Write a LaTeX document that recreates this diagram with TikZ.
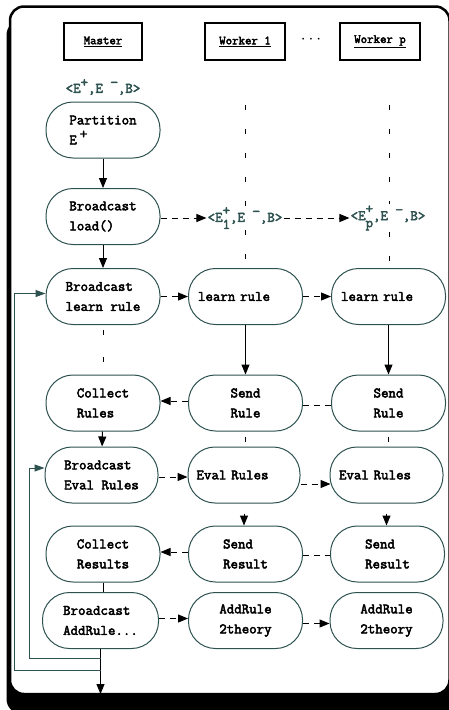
\documentclass[tikz,border=0pt]{standalone}
\usepackage{fontspec}
\setmonofont{Latin Modern Mono}[AutoFakeBold=3]
\usetikzlibrary{arrows.meta,calc}
\definecolor{slate}{RGB}{46,82,80}
\tikzset{
 proc/.style={draw=slate, line width=1pt, rectangle, rounded corners=27pt, minimum width=114pt, minimum height=56pt, align=left, font=\ttfamily\bfseries\fontsize{14.5}{20}\selectfont, inner sep=0pt, fill=white},
 single/.style={text width=95pt},
 hdr/.style={draw=black, line width=2.5pt, minimum width=78pt, minimum height=37pt, inner sep=0pt, font=\ttfamily\bfseries\fontsize{12.5}{13}\selectfont},
 lbl/.style={text=slate, font=\ttfamily\bfseries\fontsize{14.5}{16}\selectfont, inner sep=1pt},
 arr/.style={-{Triangle[length=10pt,width=8pt]}, line width=1pt},
 darr/.style={arr, dash pattern=on 6pt off 5pt},
 dline/.style={line width=1pt, dash pattern=on 6pt off 5pt},
 vdash/.style={line width=1pt, dash pattern=on 5pt off 19pt},
 gapdash/.style={line width=1pt, dash pattern=on 0pt off 5pt on 5pt off 17pt},
 loopl/.style={draw=slate, line width=1pt, -{Triangle[length=10pt,width=7pt]}}
}
\newcommand{\sups}[1]{\raisebox{6pt}{#1}}
\newcommand{\subsup}[2]{\rlap{\raisebox{7pt}{#2}}\raisebox{-7pt}{#1}}
\begin{document}
\begin{tikzpicture}[x=1pt,y=-1pt]
\useasboundingbox (0,0) rectangle (449,710);
% frame
\fill[black, rounded corners=15pt] (6.5,20) rectangle (455,714);
\draw[line width=2.5pt, fill=white, rounded corners=14pt] (10,6.5) rectangle (449.5,694);
% headers
\node[hdr] (hm) at (103,41.5) {\underline{Master}};
\node[hdr, minimum width=80pt] (h1) at (245,41.5) {\underline{Worker 1}};
\node[hdr, minimum width=80pt] (hp) at (380,41.5) {\underline{Worker p}};
\node[font=\bfseries\fontsize{16}{16}\selectfont] (dots) at (311,40) {$\cdot$\hspace{3pt}$\cdot$\hspace{3pt}$\cdot$};
% labels
\node[lbl] (l0) at (103,87) {<E\sups{+},E \sups{−},B>};
\node[lbl] (l1) at (245,218) {<E\subsup{1}{+},E \sups{−},B>};
\node[lbl] (lp) at (388,218) {<E\subsup{p}{+},E \sups{−},B>};
% master column
\node[proc] (part) at (103,130) {Partition\\E\hspace{3pt}\sups{+}};
\node[proc] (bload) at (103,216.5) {Broadcast\\load()};
\node[proc] (blearn) at (103,296.5) {Broadcast\\learn rule};
\node[proc] (collR) at (103,403) {Collect\\Rules};
\node[proc, minimum width=113pt] (bEval) at (101.5,475) {Broadcast\\Eval Rules};
\node[proc] (collRes) at (103,554) {Collect\\Results};
\node[proc, minimum width=116pt] (bAdd) at (100.5,620.5) {Broadcast\\AddRule...};
% worker 1
\node[proc, single] (learn1) at (245.5,296.5) {learn rule};
\node[proc] (send1) at (245.5,403) {Send\\Rule};
\node[proc, single, minimum width=112pt] (eval1) at (244,475) {Eval Rules};
\node[proc] (sres1) at (245.5,554) {Send\\Result};
\node[proc] (add1) at (245.5,620.5) {AddRule\\2theory};
% worker p
\node[proc, single] (learnp) at (388.5,296.5) {learn rule};
\node[proc] (sendp) at (388.5,403) {Send\\Rule};
\node[proc, single, minimum width=113pt] (evalp) at (386.5,475) {Eval Rules};
\node[proc] (sresp) at (387.5,554) {Send\\Result};
\node[proc, minimum width=113pt] (addp) at (386.5,620.5) {AddRule\\2theory};
% coordinates
\coordinate (t1) at (245,105);
\coordinate (tp) at (389,105);
\coordinate (exit) at (101.5,694);
\coordinate (j1) at ($(bAdd.south)+(0,9)$);
\coordinate (j2) at ($(bAdd.south)+(0,21)$);
% master verticals
\draw[arr] (part) -- (bload);
\draw[arr] (bload) -- (blearn);
\draw[gapdash] (blearn) -- (collR);
\draw[arr] (collR) -- (bEval);
\draw[line width=1pt] (collRes.south) -- (collRes.south |- bAdd.north);
\draw[arr] (bAdd.south) -- (bAdd.south |- exit);
% loops
\draw[loopl] (j1) -| ($(bEval.west)+(-15,-7)$) -- ($(bEval.west)+(0,-7)$);
\draw[loopl] (j2) -| ($(blearn.west)+(-31,-3)$) -- ($(blearn.west)+(0,-3)$);
% worker verticals
\draw[vdash] (t1) -- (t1 |- l1.north);
\draw[vdash] (t1 |- l1.south) -- (t1 |- learn1.north);
\draw[vdash] (tp) -- (tp |- lp.north);
\draw[vdash] (tp |- lp.south) -- (tp |- learnp.north);
\draw[arr] (learn1) -- (send1);
\draw[arr] (learnp) -- (sendp);
\draw[gapdash] (send1) -- (send1 |- eval1.north);
\draw[gapdash] (sendp) -- (sendp |- evalp.north);
\draw[arr, shorten <=10pt] (eval1) -- (eval1 |- sres1.north);
\draw[arr, shorten <=10pt] (evalp) -- (evalp |- sresp.north);
% horizontals
\draw[darr] (bload.east |- l1) -- (l1.west);
\draw[darr] (l1.east) -- (lp.west);
\draw[darr] (blearn.east) -- (learn1.west);
\draw[darr] (learn1.east) -- (learnp.west);
\draw[darr] ($(send1.west)+(0,-2)$) -- ($(collR.east)+(0,-2)$);
\draw[dline] ($(send1.east)+(0,2)$) -- ($(sendp.west)+(0,2)$);
\draw[darr] ($(bEval.east)+(0,2)$) -- ($(eval1.west)+(0,2)$);
\draw[darr] ($(eval1.east)+(0,9)$) -- ($(evalp.west)+(1,9)$);
\draw[darr] ($(sres1.west)+(0,-2)$) -- ($(collRes.east)+(0,-2)$);
\draw[dline] ($(sres1.east)+(0,1)$) -- ($(sresp.west)+(0,1)$);
\draw[darr] ($(bAdd.east)+(0,-2)$) -- ($(add1.west)+(0,-2)$);
\draw[darr] ($(add1.east)+(0,3)$) -- ($(addp.west)+(0,3)$);
\end{tikzpicture}
\end{document}
